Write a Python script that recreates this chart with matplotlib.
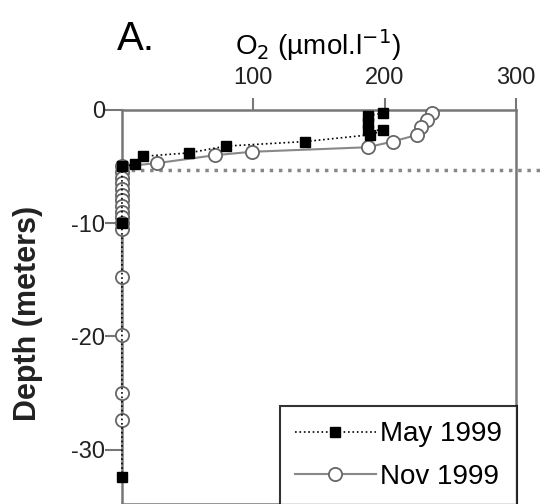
import matplotlib
matplotlib.use('Agg')
import matplotlib.pyplot as plt

plt.rcParams['font.family'] = ['Liberation Sans', 'DejaVu Sans']
plt.rcParams['axes.unicode_minus'] = False

# May 1999 profile (O2 umol/l, depth m)
may_o2 = [199, 187, 187, 187, 199, 189, 139, 79, 51, 16, 10, 0, 0, 0]
may_depth = [-0.3, -0.5, -1.2, -1.8, -1.8, -2.2, -2.8, -3.2, -3.8, -4.1, -4.8, -5.0, -10.0, -32.4]

# Nov 1999 profile
nov_o2 = [236, 232, 228, 225, 206, 187, 99, 71, 27, 0, 0, 0, 0, 0, 0, 0, 0, 0, 0, 0, 0, 0, 0, 0, 0]
nov_depth = [-0.3, -0.9, -1.5, -2.2, -2.8, -3.3, -3.7, -4.0, -4.7, -5.0,
             -5.5, -6.0, -6.5, -7.0, -7.5, -8.0, -8.5, -9.0, -9.5, -10.0, -10.5,
             -14.8, -19.9, -25.0, -27.4]

xticks = [100, 200, 300]
yticks = [0, -10, -20, -30]
spine_col = '#777777'

fig = plt.figure(figsize=(5.42, 5.04), dpi=100)
ax = fig.add_axes([0.225, 0.0, 0.727, 0.782])

ax.plot(may_o2, may_depth, ':', color='black', lw=1.2, marker='s', ms=6.5,
        mfc='black', mec='black', clip_on=False, label='May 1999', zorder=4)
ax.plot(nov_o2, nov_depth, '-', color='#888888', lw=1.5, marker='o', ms=9.5,
        mfc='white', mec='#666666', mew=1.3, clip_on=False, label='Nov 1999', zorder=3)

# thermocline / interface marker
ax.plot([0, 320], [-5.3, -5.3], ':', color='#888888', lw=2.5, clip_on=False, zorder=2)

ax.set_xlim(0, 300)
ax.set_ylim(-34.8, 0)
ax.xaxis.tick_top()
ax.set_xticks(xticks)
ax.set_yticks(yticks)
ax.tick_params(axis='x', direction='out', length=9, width=1.5, color=spine_col,
               labelsize=17, pad=6, labelcolor='#222222')
ax.tick_params(axis='y', direction='out', length=12, width=1.5, color=spine_col,
               labelsize=17, pad=0, labelcolor='#222222')
for s in ax.spines.values():
    s.set_color(spine_col)
    s.set_linewidth(1.8)

fig.text(0.215, 0.9, 'A.', fontsize=29)
fig.text(0.587, 0.89, 'O$_2$ (µmol.l$^{-1}$)', fontsize=20, ha='center', va='baseline')
fig.text(0.052, 0.379, 'Depth (meters)', fontsize=22, fontweight='bold', color='#222222',
         rotation=90, ha='center', va='center')

leg = ax.legend(loc='lower right', bbox_to_anchor=(1.003, -0.003), borderaxespad=0,
                fancybox=False, edgecolor='black', fontsize=20, handlelength=2.9,
                handletextpad=0.15, borderpad=0.55, labelspacing=0.6)
leg.get_frame().set_linewidth(1.5)

fig.savefig('out.png', dpi=100)
